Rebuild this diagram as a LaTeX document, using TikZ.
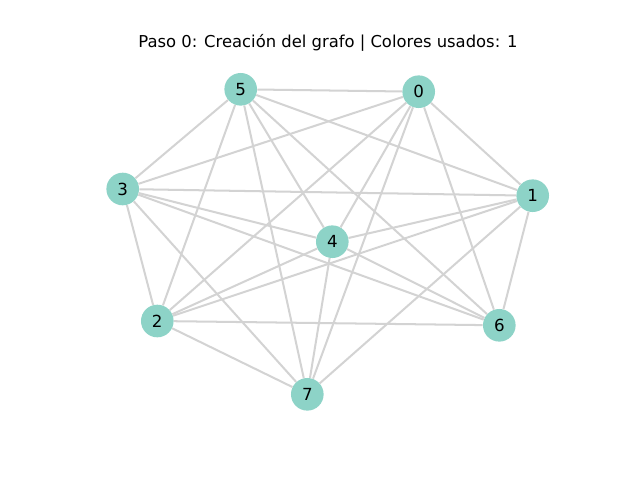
\documentclass[tikz,border=0pt]{standalone}
\usepackage{fontspec}
\setmainfont{DejaVu Sans}
\usetikzlibrary{positioning}
\definecolor{nodeteal}{HTML}{8DD3C7}
\definecolor{edgegray}{HTML}{D3D3D3}

\begin{document}
\begin{tikzpicture}[x=0.72pt, y=-0.72pt,
    vertex/.style={circle, fill=nodeteal, minimum size=23.5pt, inner sep=0pt, font=\fontsize{12}{14}\selectfont},
    link/.style={edgegray, line width=1.45pt}]
                \useasboundingbox (0,0) rectangle (640,480);
                \node[font=\fontsize{11.8}{14}\selectfont] (title) at (328,43) {Paso 0: Creación del grafo | Colores usados: 1};
                % Vertices
                \node[vertex] (n0) at (418.7,91.7) {0};
                \node[vertex] (n1) at (532.7,195.7) {1};
                \node[vertex] (n2) at (157.3,321) {2};
                \node[vertex] (n3) at (122.7,189) {3};
                \node[vertex] (n4) at (332.3,241.7) {4};
                \node[vertex] (n5) at (240.7,89.3) {5};
                \node[vertex] (n6) at (499.3,325.3) {6};
                \node[vertex] (n7) at (307.3,394.3) {7};
                % Edges
                \foreach \a/\b in {0/1,0/2,0/3,0/4,0/5,0/6,0/7,
                                   1/2,1/3,1/4,1/5,1/6,1/7,
                                   2/3,2/4,2/5,2/6,2/7,
                                   3/4,3/5,3/6,3/7,
                                   4/5,4/6,4/7,
                                   5/6,5/7}
                    \draw[link] (n\a) -- (n\b);
\end{tikzpicture}
\end{document}
